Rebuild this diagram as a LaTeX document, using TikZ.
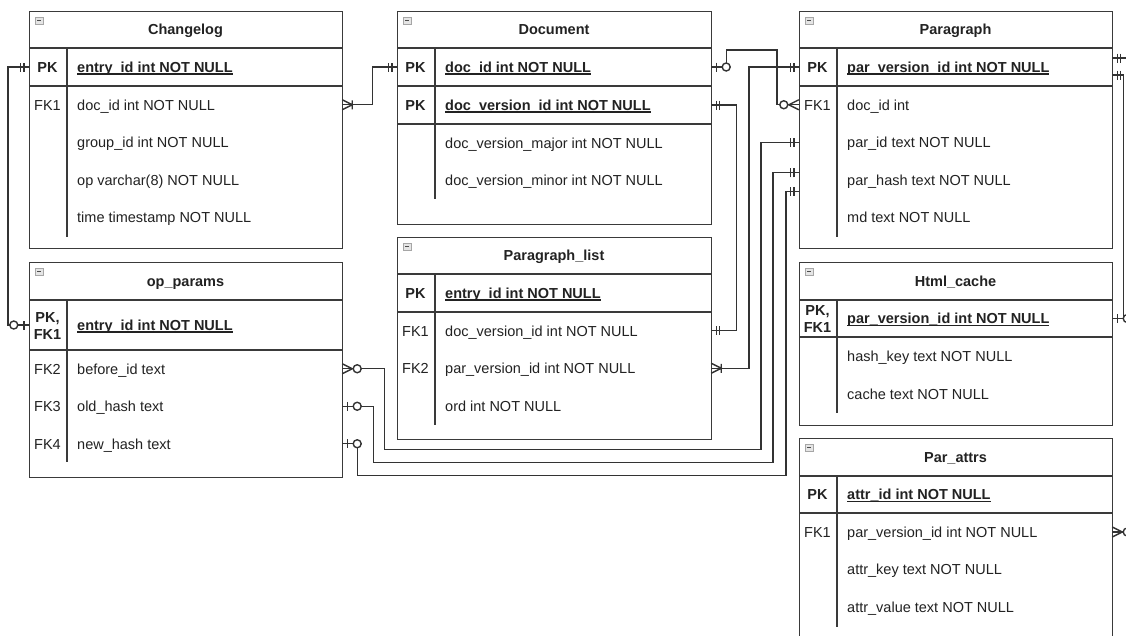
\documentclass[tikz,border=0pt]{standalone}
\usepackage{fontspec}
\setmainfont{Liberation Sans}
\definecolor{tblc}{HTML}{3A3A3A}
\definecolor{linec}{HTML}{333333}
\definecolor{txtc}{HTML}{222222}
\newcommand\ul[1]{\setbox0\hbox{#1}\rlap{\rule[-2.2pt]{\wd0}{1.1pt}}\box0}
\newcommand\ertbl[9]{%
  \node[frame, anchor=north west, minimum width={#4-#2}, minimum height={#5-#3}] (#1) at (#2,#3) {};
  \draw[sep] (#2,#6) -- (#4,#6) (#2,#7) -- (#4,#7) ({#2+38},#6) -- ({#2+38},#8);
  \node[ttl] (#1-title) at ({(#2+#4)/2},{(#3+#6)/2+5.3}) {#9};
  \draw[icon] ({#2+6.5},{#3+6}) rectangle ++(7.5,7);
  \draw[line width=0.9pt, black!70] ({#2+8.2},{#3+9.5}) -- ({#2+12.3},{#3+9.5});
}
\newcommand\erow[6]{%
  \node[rowbox, minimum width={#3-#2}] (#1) at ({(#2+#3)/2},#4) {};
  \node[keyt] (#1-k) at ({#2+18.5},{#4+5.3}) {#5};
  \node[fldt] (#1-t) at ({#2+48},{#4+5.3}) {#6};
}
\begin{document}
\begin{tikzpicture}[x=1pt,y=-1pt,
  frame/.style={draw=tblc, line width=1.3pt, fill=white, inner sep=0pt},
  sep/.style={draw=tblc, line width=1.3pt},
  icon/.style={draw=gray!70, fill=gray!20, line width=0.6pt},
  ttl/.style={font=\fontsize{14.5}{17}\selectfont\bfseries, text=txtc, inner sep=0pt, anchor=base},
  keyt/.style={font=\fontsize{14.5}{17}\selectfont, text=txtc, inner sep=0pt, anchor=base},
  fldt/.style={font=\fontsize{14.5}{17}\selectfont, text=txtc, inner sep=0pt, anchor=base west},
  rowbox/.style={draw=none, inner sep=0pt, minimum height=10pt},
  conn/.style={draw=linec, line width=1.4pt},
  mone/.pic={\draw[conn] (5,-4.5) -- (5,4.5) (8.5,-4.5) -- (8.5,4.5);},
  zone/.pic={\draw[conn] (5,-4.5) -- (5,4.5); \draw[conn, fill=white] (15,0) circle (4);},
  mmany/.pic={\draw[conn] (0,-5) -- (10,0) -- (0,5) (10,-4.5) -- (10,4.5);},
  zmany/.pic={\draw[conn] (0,-5) -- (10,0) -- (0,5); \draw[conn, fill=white] (15,0) circle (4);},
]
\useasboundingbox (0,0) rectangle (1126,635);
\clip (0,0) rectangle (1126,635);
\fill[white] (0,0) rectangle (1126,635);

% ---------- Changelog
\ertbl{cl}{29}{11}{342}{248}{48}{86}{237}{Changelog}
\erow{cl-pk}{29}{342}{67}{\bfseries PK}{\bfseries\ul{entry\_id int NOT NULL}}
\erow{cl-doc}{29}{342}{104.75}{FK1}{doc\_id int NOT NULL}
\erow{cl-grp}{29}{342}{142.25}{}{group\_id int NOT NULL}
\erow{cl-op}{29}{342}{179.75}{}{op varchar(8) NOT NULL}
\erow{cl-time}{29}{342}{217.25}{}{time timestamp NOT NULL}

% ---------- Document
\ertbl{dc}{397}{11}{711}{224}{48}{86}{199}{Document}
\draw[sep] (397,124) -- (711,124);
\erow{dc-pk}{397}{711}{67}{\bfseries PK}{\bfseries\ul{doc\_id int NOT NULL}}
\erow{dc-ver}{397}{711}{105}{\bfseries PK}{\bfseries\ul{doc\_version\_id int NOT NULL}}
\erow{dc-maj}{397}{711}{142.75}{}{doc\_version\_major int NOT NULL}
\erow{dc-min}{397}{711}{180.25}{}{doc\_version\_minor int NOT NULL}

% ---------- Paragraph
\ertbl{pa}{799}{11}{1112}{248}{48}{86}{237}{Paragraph}
\erow{pa-pk}{799}{1112}{67}{\bfseries PK}{\bfseries\ul{par\_version\_id int NOT NULL}}
\erow{pa-doc}{799}{1112}{104.75}{FK1}{doc\_id int}
\erow{pa-pid}{799}{1112}{142.25}{}{par\_id text NOT NULL}
\erow{pa-hash}{799}{1112}{179.75}{}{par\_hash text NOT NULL}
\erow{pa-md}{799}{1112}{217.25}{}{md text NOT NULL}

% ---------- op_params
\ertbl{op}{29}{262}{342}{477}{300}{350}{462}{op\_params}
\erow{op-pk}{29}{342}{325}{}{\bfseries\ul{entry\_id int NOT NULL}}
\node[keyt] (op-pk-k1) at (47.5,322) {\bfseries PK,};
\node[keyt] (op-pk-k2) at (47.5,339) {\bfseries FK1};
\erow{op-bef}{29}{342}{368.75}{FK2}{before\_id text}
\erow{op-old}{29}{342}{406.25}{FK3}{old\_hash text}
\erow{op-new}{29}{342}{443.75}{FK4}{new\_hash text}

% ---------- Paragraph_list
\ertbl{pl}{397}{237}{711}{439}{274}{312}{425}{Paragraph\_list}
\erow{pl-pk}{397}{711}{293}{\bfseries PK}{\bfseries\ul{entry\_id int NOT NULL}}
\erow{pl-doc}{397}{711}{330.75}{FK1}{doc\_version\_id int NOT NULL}
\erow{pl-par}{397}{711}{368.25}{FK2}{par\_version\_id int NOT NULL}
\erow{pl-ord}{397}{711}{405.75}{}{ord int NOT NULL}

% ---------- Html_cache
\ertbl{hc}{799}{262}{1112}{425}{300}{337}{413}{Html\_cache}
\erow{hc-pk}{799}{1112}{318.5}{}{\bfseries\ul{par\_version\_id int NOT NULL}}
\node[keyt] (hc-pk-k1) at (817.5,315.5) {\bfseries PK,};
\node[keyt] (hc-pk-k2) at (817.5,332.5) {\bfseries FK1};
\erow{hc-key}{799}{1112}{356.25}{}{hash\_key text NOT NULL}
\erow{hc-cache}{799}{1112}{393.75}{}{cache text NOT NULL}

% ---------- Par_attrs
\ertbl{pt}{799}{438}{1112}{660}{476}{513}{627}{Par\_attrs}
\erow{pt-pk}{799}{1112}{494.5}{\bfseries PK}{\bfseries\ul{attr\_id int NOT NULL}}
\erow{pt-par}{799}{1112}{532}{FK1}{par\_version\_id int NOT NULL}
\erow{pt-key}{799}{1112}{569.5}{}{attr\_key text NOT NULL}
\erow{pt-val}{799}{1112}{607}{}{attr\_value text NOT NULL}

% ---------- connectors
\draw[conn] (cl-pk.west) -- ++(-21,0) |- (op-pk.west);
\draw[conn] (cl-doc.east) -- ++(30,0) |- (dc-pk.west);
\draw[conn] (dc-pk.east) -- ++(15,0) -- ++(0,-17) -| ([xshift=-22pt]pa-doc.west) -- (pa-doc.west);
\draw[conn] (dc-ver.east) -- ++(25,0) |- (pl-doc.east);
\draw[conn] (pa-pk.west) -- ++(-50,0) |- (pl-par.east);
\draw[conn] (op-bef.east) -- ++(42,0) -- ++(0,81) -| ([xshift=-38pt]pa-pid.west) -- (pa-pid.west);
\draw[conn] (op-old.east) -- ++(31,0) -- ++(0,56.5) -| ([xshift=-26pt,yshift=7pt]pa-hash.west) -- ([yshift=7pt]pa-hash.west);
\draw[conn] (op-new.east) -- ++(15,0) -- ++(0,32) -| ([xshift=-13pt,yshift=26pt]pa-md.west) -- ([yshift=26pt]pa-md.west);
\draw[conn] ([yshift=-8pt]pa-pk.east) -- ++(11,0) |- (hc-pk.east);
\coordinate (offa) at (1140,58);
\coordinate (offb) at (1140,532);
\draw[conn] ([yshift=9pt]pa-pk.east) -- (offa);
\draw[conn] (pt-par.east) -- (offb);

% ---------- markers
\pic[rotate=180] at (cl-pk.west) {mone};
\pic[rotate=180] at (op-pk.west) {zone};
\pic at (cl-doc.east) {mmany};
\pic[rotate=180] at (dc-pk.west) {mone};
\pic at (dc-pk.east) {zone};
\pic[rotate=180] at (pa-doc.west) {zmany};
\pic at (dc-ver.east) {mone};
\pic at (pl-doc.east) {mone};
\pic[rotate=180] at (pa-pk.west) {mone};
\pic at (pl-par.east) {mmany};
\pic at (op-bef.east) {zmany};
\pic[rotate=180] at (pa-pid.west) {mone};
\pic at (op-old.east) {zone};
\pic[rotate=180] at ([yshift=7pt]pa-hash.west) {mone};
\pic at (op-new.east) {zone};
\pic[rotate=180] at ([yshift=26pt]pa-md.west) {mone};
\pic at ([yshift=-8pt]pa-pk.east) {mone};
\pic at (hc-pk.east) {zone};
\pic at ([yshift=9pt]pa-pk.east) {mone};
\pic at (pt-par.east) {zmany};
\end{tikzpicture}
\end{document}
